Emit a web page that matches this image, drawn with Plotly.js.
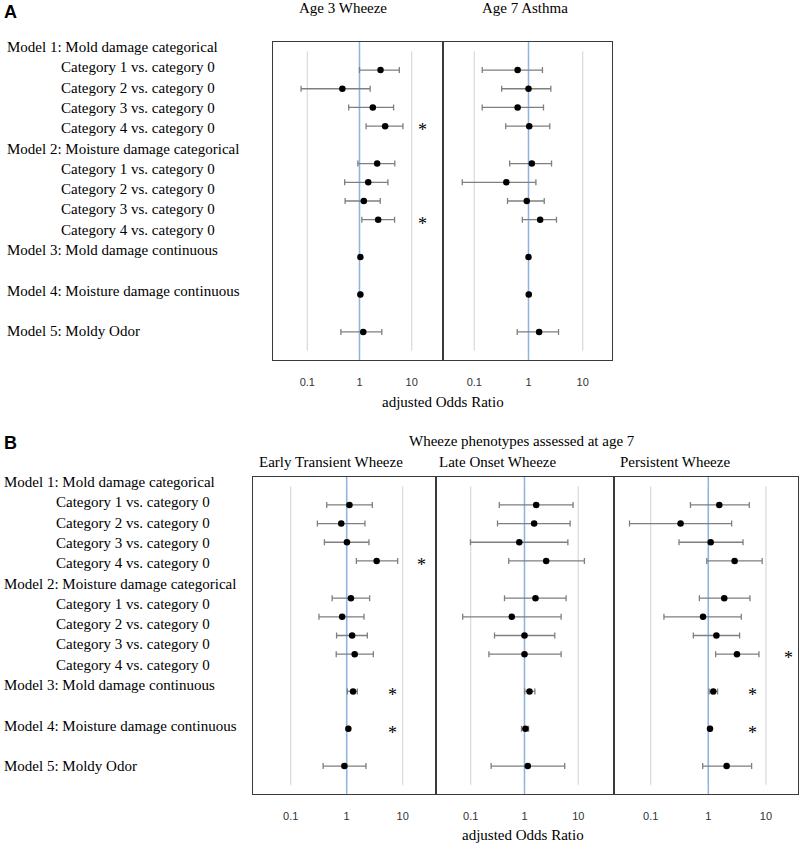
<!DOCTYPE html>
<html>
<head>
<meta charset="utf-8">
<script src="https://cdn.plot.ly/plotly-3.0.1.min.js"></script>
<style>html,body{margin:0;padding:0;background:#fff;}#chart{width:800px;height:847px;}</style>
</head>
<body>
<div id="chart"></div>
<script>
// ---------- DATA ----------
const rowKeys = ['M1C1','M1C2','M1C3','M1C4','M2C1','M2C2','M2C3','M2C4','M3','M4','M5'];
// full ordered list of row slots (spacers included) on the y axis
const rowSlots = ['M1','M1C1','M1C2','M1C3','M1C4','M2','M2C1','M2C2','M2C3','M2C4','gap1','M3','gap2','M4','gap3','M5','gap4'];
const rowLabels = [
  'Model 1: Mold damage categorical',
  'Category 1 vs. category 0','Category 2 vs. category 0','Category 3 vs. category 0','Category 4 vs. category 0',
  'Model 2: Moisture damage categorical',
  'Category 1 vs. category 0','Category 2 vs. category 0','Category 3 vs. category 0','Category 4 vs. category 0',
  'Model 3: Mold damage continuous','Model 4: Moisture damage continuous','Model 5: Moldy Odor'
];
const labelIndent = [false,true,true,true,true,false,true,true,true,true,false,false,false];
const labelLine = [0,1,2,3,4,5,6,7,8,9,10,12,14];

const tickVals = [0.1, 1, 10];
const tickText = ['0.1', '1', '10'];

// Panel A
const a3Title = 'Age 3 Wheeze';
const a3OR = [2.53, 0.47, 1.80, 3.10, 2.18, 1.47, 1.21, 2.28, 1.04, 1.04, 1.18];
const a3Lo = [1.00, 0.076, 0.62, 1.34, 0.93, 0.52, 0.53, 1.11, 1.01, 1.01, 0.44];
const a3Hi = [5.80, 1.60, 4.50, 6.80, 4.75, 3.50, 2.50, 4.70, 1.07, 1.07, 2.68];
const a3Sig = ['M1C4', 'M2C4'];

const a7Title = 'Age 7 Asthma';
const a7OR = [0.63, 1.00, 0.63, 1.03, 1.15, 0.39, 0.93, 1.64, 1.00, 1.01, 1.57];
const a7Lo = [0.14, 0.32, 0.14, 0.38, 0.45, 0.06, 0.41, 0.77, 0.98, 0.99, 0.62];
const a7Hi = [1.81, 2.58, 1.89, 2.47, 2.66, 1.37, 1.95, 3.28, 1.03, 1.03, 3.58];
const a7Sig = [];

// Panel B
const etTitle = 'Early Transient Wheeze';
const etOR = [1.12, 0.80, 1.01, 3.43, 1.19, 0.83, 1.25, 1.39, 1.30, 1.07, 0.91];
const etLo = [0.44, 0.30, 0.40, 1.49, 0.55, 0.32, 0.66, 0.65, 1.03, 1.04, 0.38];
const etHi = [2.87, 2.12, 2.50, 8.14, 2.57, 2.04, 2.34, 2.99, 1.55, 1.10, 2.21];
const etSig = ['M1C4', 'M3', 'M4'];

const loTitle = 'Late Onset Wheeze';
const loOR = [1.65, 1.51, 0.80, 2.53, 1.60, 0.58, 1.00, 1.00, 1.24, 1.04, 1.15];
const loLo = [0.34, 0.315, 0.099, 0.51, 0.425, 0.071, 0.277, 0.218, 1.01, 0.88, 0.24];
const loHi = [8.00, 7.05, 6.40, 13.0, 5.94, 4.80, 3.66, 4.80, 1.56, 1.19, 5.60];
const loSig = [];

const pwTitle = 'Persistent Wheeze';
const pwOR = [1.55, 0.33, 1.10, 2.86, 1.89, 0.81, 1.38, 3.14, 1.22, 1.07, 2.08];
const pwLo = [0.49, 0.043, 0.31, 0.94, 0.70, 0.17, 0.55, 1.34, 1.03, 1.04, 0.80];
const pwHi = [5.14, 2.54, 4.00, 8.60, 5.28, 3.73, 3.49, 7.56, 1.45, 1.10, 5.64];
const pwSig = ['M2C4', 'M3', 'M4'];

// ---------- LAYOUT / STYLE ----------
const W = 800, H = 847;
const py = p => 1 - p / H;
const px = p => p / W;
const serif = 'Liberation Serif';
const sans = 'Liberation Sans';

const panels = [
  {OR:a3OR, Lo:a3Lo, Hi:a3Hi, sig:a3Sig, l:273, r:443, t:42, b:360, range:[-1.657,1.60], starX:{M1C4:0.882, M2C4:0.882}},
  {OR:a7OR, Lo:a7Lo, Hi:a7Hi, sig:a7Sig, l:443, r:612, t:42, b:360, range:[-1.577,1.54], starX:{}},
  {OR:etOR, Lo:etLo, Hi:etHi, sig:etSig, l:253, r:436, t:477, b:794, range:[-1.673,1.595], starX:{M1C4:0.923, M3:0.765, M4:0.765}},
  {OR:loOR, Lo:loLo, Hi:loHi, sig:loSig, l:436, r:614, t:477, b:794, range:[-1.645,1.664], starX:{}},
  {OR:pwOR, Lo:pwLo, Hi:pwHi, sig:pwSig, l:614, r:798, t:477, b:794, range:[-1.636,1.556], starX:{M2C4:0.951, M3:0.75, M4:0.75}}
];

const traces = [];
const layout = {
  width: W, height: H,
  margin: {l:0, r:0, t:0, b:0},
  paper_bgcolor: '#ffffff', plot_bgcolor: 'rgba(0,0,0,0)',
  showlegend: false,
  font: {family: serif},
  shapes: [], annotations: []
};

panels.forEach((p, i) => {
  const n = i + 1;
  const xa = n === 1 ? 'xaxis' : 'xaxis' + n;
  const ya = n === 1 ? 'yaxis' : 'yaxis' + n;
  const xr = n === 1 ? 'x' : 'x' + n;
  const yr = n === 1 ? 'y' : 'y' + n;

  layout[xa] = {
    type: 'log', range: p.range, domain: [px(p.l), px(p.r)], anchor: yr,
    tickvals: tickVals, ticktext: tickText,
    ticks: 'outside', ticklen: 11, tickcolor: 'rgba(0,0,0,0)',
    tickfont: {family: sans, size: 11, color: '#333333'},
    showgrid: false, zeroline: false,
    showline: true, mirror: true, linecolor: '#3a3a3a', linewidth: 1.3,
    fixedrange: true
  };
  layout[ya] = {
    type: 'category', categoryorder: 'array', categoryarray: rowSlots,
    range: [rowSlots.length - 0.5, -0.5],
    domain: [py(p.b), py(p.t)], anchor: xr,
    showticklabels: false, ticks: '', showgrid: false, zeroline: false,
    showline: true, mirror: true, linecolor: '#3a3a3a', linewidth: 1.3,
    fixedrange: true
  };

  tickVals.forEach(v => {
    layout.shapes.push({
      type: 'line', xref: xr, yref: yr + ' domain',
      x0: v, x1: v, y0: 0.5 / rowSlots.length, y1: 1 - 0.5 / rowSlots.length,
      line: {color: '#d9d9d9', width: 1.2}, layer: 'below'
    });
  });
  layout.shapes.push({
    type: 'line', xref: xr, yref: yr + ' domain',
    x0: 1, x1: 1, y0: 0, y1: 1,
    line: {color: '#8fb4e3', width: 1.5}, layer: 'below'
  });

  traces.push({
    type: 'scatter', mode: 'markers',
    x: p.OR, y: rowKeys, xaxis: xr, yaxis: yr,
    marker: {color: '#000000', size: 6.5},
    error_x: {
      type: 'data', symmetric: false,
      array: p.Hi.map((h, k) => h - p.OR[k]),
      arrayminus: p.Lo.map((l, k) => p.OR[k] - l),
      color: '#7f7f7f', thickness: 1.3, width: 3
    },
    hoverinfo: 'skip'
  });

  p.sig.forEach(key => {
    layout.annotations.push({
      xref: xr + ' domain', yref: yr, x: p.starX[key], y: rowSlots.indexOf(key),
      text: '*', showarrow: false, xanchor: 'center', yanchor: 'middle', yshift: -4,
      font: {family: serif, size: 18, color: '#000000'}
    });
  });
});

function addLabels(boxTop, modelX, catX) {
  rowLabels.forEach((t, k) => {
    layout.annotations.push({
      xref: 'paper', yref: 'paper',
      x: px(labelIndent[k] ? catX : modelX), y: py(boxTop + 5 + 20.3 * labelLine[k]),
      text: t, showarrow: false, xanchor: 'left', yanchor: 'middle',
      font: {family: serif, size: 15, color: '#000000'}
    });
  });
}
addLabels(42, 5, 59);
addLabels(477, 2, 54);

function addText(t, x, y, font) {
  layout.annotations.push({xref: 'paper', yref: 'paper', x: px(x), y: py(y), text: t,
    showarrow: false, xanchor: 'center', yanchor: 'middle', font: font});
}
const titleFont = {family: serif, size: 15, color: '#000000'};
addText(a3Title, 343, 8, titleFont);
addText(a7Title, 525, 8, titleFont);
addText('adjusted Odds Ratio', 443, 402, titleFont);
addText('Wheeze phenotypes assessed at age 7', 522, 441, titleFont);
addText(etTitle, 331, 462, titleFont);
addText(loTitle, 498, 462, titleFont);
addText(pwTitle, 675, 462, titleFont);
addText('adjusted Odds Ratio', 523, 835, titleFont);
addText('<b>A</b>', 10, 12, {family: sans, size: 18, color: '#000000'});
addText('<b>B</b>', 10, 443, {family: sans, size: 18, color: '#000000'});

Plotly.newPlot('chart', traces, layout, {staticPlot: true, displayModeBar: false});
</script>
</body>
</html>
